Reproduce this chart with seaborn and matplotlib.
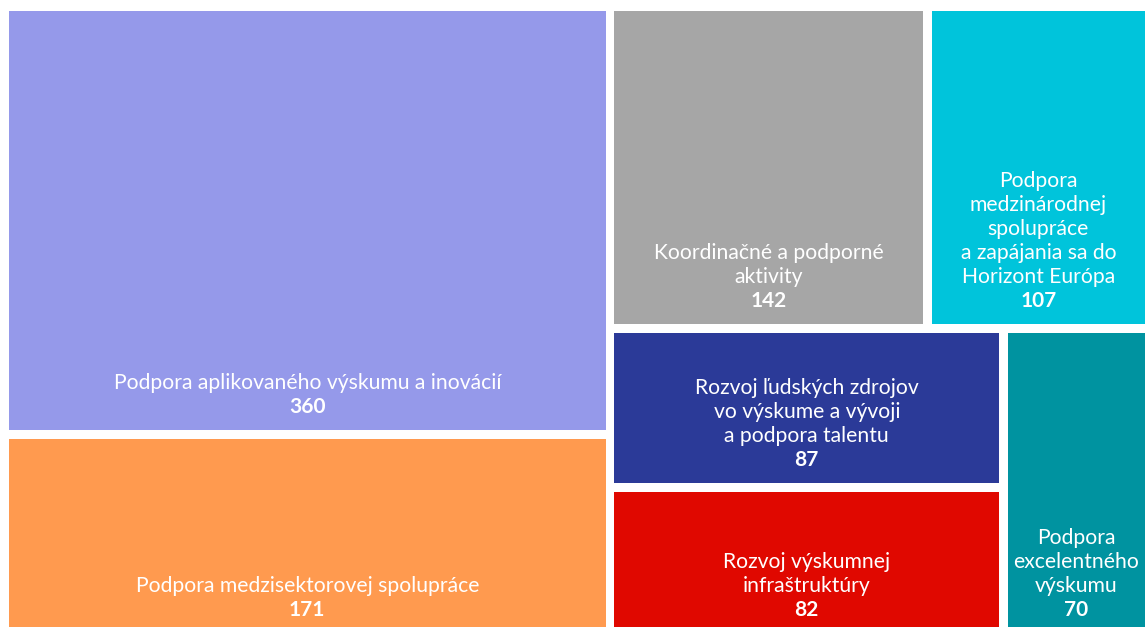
import matplotlib
matplotlib.use("Agg")
import matplotlib.pyplot as plt
import seaborn as sns
from matplotlib.patches import Rectangle

# oblasti podpory a pocet projektov
labels = ["Podpora aplikovaného výskumu a inovácií",
          "Podpora medzisektorovej spolupráce",
          "Koordinačné a podporné\naktivity",
          "Podpora\nmedzinárodnej\nspolupráce\na zapájania sa do\nHorizont Európa",
          "Rozvoj ľudských zdrojov\nvo výskume a vývoji\na podpora talentu",
          "Rozvoj výskumnej\ninfraštruktúry",
          "Podpora\nexcelentného\nvýskumu"]
values = [360, 171, 142, 107, 87, 82, 70]
colors = ["#9599EA", "#FF9A4F", "#A6A6A6", "#00C4DB", "#2B3A98", "#E00800", "#0093A0"]

sns.set_theme(style="white")
plt.rcParams['font.family'] = ['Lato', 'DejaVu Sans']

W_IMG, H_IMG = 1145, 627
fig = plt.figure(figsize=(11.45, 6.27), dpi=100)
ax = fig.add_axes([0, 0, 1, 1])
ax.set_xlim(0, W_IMG)
ax.set_ylim(H_IMG, 0)
ax.axis("off")

# plocha treemapy (cast presahuje mimo obrazka)
X0, Y0, W, H = 4.5, 6.5, 1162, 631
gap = 4.3

total = sum(values)
rects = [None] * len(values)

# lavy stlpec: 0 a 1
wl = W * (values[0] + values[1]) / total
ha = H * values[0] / (values[0] + values[1])
rects[0] = (X0, Y0, wl, ha)
rects[1] = (X0, Y0 + ha, wl, H - ha)

# prava cast
xr = X0 + wl
wr = W - wl
right = sum(values[2:])
ht = H * (values[2] + values[3]) / right
wc = wr * values[2] / (values[2] + values[3])
rects[2] = (xr, Y0, wc, ht)
rects[3] = (xr + wc, Y0, wr - wc, ht)

yb = Y0 + ht
hb = H - ht
bottom = sum(values[4:])
we = wr * (values[4] + values[5]) / bottom
he = hb * values[4] / (values[4] + values[5])
rects[4] = (xr, yb, we, he)
rects[5] = (xr, yb + he, we, hb - he)
rects[6] = (xr + we, yb, wr - we, hb)

for (x, y, w, h), lab, val, col in zip(rects, labels, values, colors):
    ax.add_patch(Rectangle((x + gap, y + gap), w - 2 * gap, h - 2 * gap,
                           facecolor=col, edgecolor="none"))
    vx0 = max(x + gap, 0)
    vx1 = min(x + w - gap, W_IMG)
    cx = (vx0 + vx1) / 2
    yb_ = y + h - gap - 13
    ax.text(cx, yb_, str(val), color="white", fontsize=15, fontweight="bold",
            ha="center", va="bottom")
    ax.text(cx, yb_ - 24, lab, color="white", fontsize=15.2,
            ha="center", va="bottom", linespacing=1.26, multialignment="center")

fig.savefig("out.png", dpi=100)
